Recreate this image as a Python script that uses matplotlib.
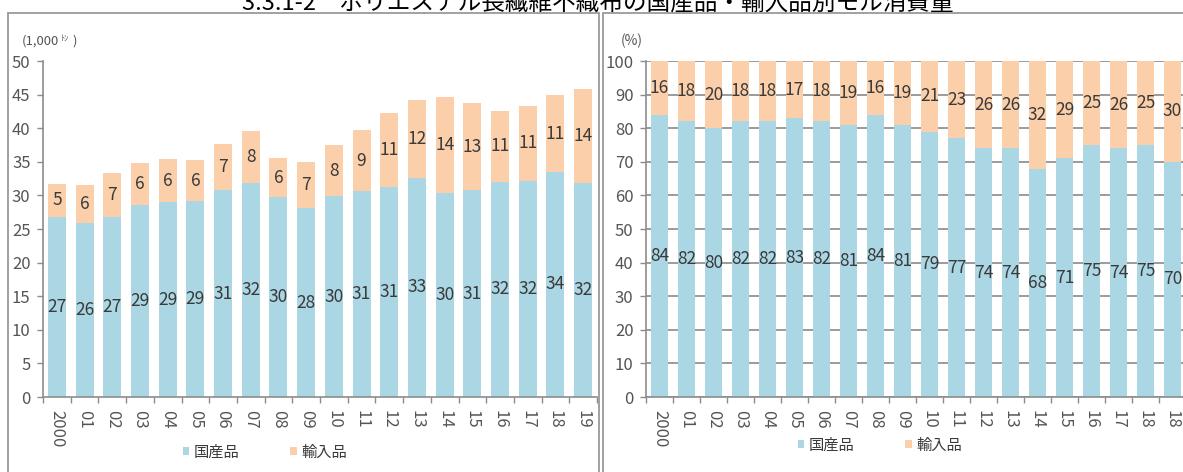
import matplotlib
matplotlib.use("Agg")
import matplotlib.pyplot as plt
from matplotlib.patches import Rectangle
import numpy as np

plt.rcParams['font.family'] = ['Noto Sans CJK JP', 'DejaVu Sans']

# ---- data ----
years_left = ["2000", "01", "02", "03", "04", "05", "06", "07", "08", "09",
              "10", "11", "12", "13", "14", "15", "16", "17", "18", "19"]
years_right = ["2000", "01", "02", "03", "04", "05", "06", "07", "08", "09",
               "10", "11", "12", "13", "14", "15", "16", "17", "18", "18"]
domestic_kt = [26.8, 25.9, 26.8, 28.6, 29.0, 29.1, 30.8, 31.9, 29.7, 28.1,
               29.9, 30.6, 31.2, 32.6, 30.3, 30.8, 32.0, 32.2, 33.5, 31.8]
import_kt = [4.9, 5.6, 6.6, 6.2, 6.4, 6.1, 6.9, 7.7, 5.8, 6.8,
             7.6, 9.1, 11.0, 11.6, 14.3, 12.9, 10.6, 11.1, 11.4, 14.0]
domestic_pct = [84, 82, 80, 82, 82, 83, 82, 81, 84, 81,
                79, 77, 74, 74, 68, 71, 75, 74, 75, 70]
import_pct = [16, 18, 20, 18, 18, 17, 18, 19, 16, 19,
              21, 23, 26, 26, 32, 29, 25, 26, 25, 30]
series_names = ["国産品", "輸入品"]
title = "3.3.1-2\u3000ポリエステル長繊維不織布の国産品・輸入品別モル消費量"

BLUE = "#abd7e4"
ORANGE = "#fbcfa9"
TXT = "#3a3a3a"
TICK = "#555555"
SPINE = "#8c8c8c"

W, H = 1183, 472
fig = plt.figure(figsize=(W / 100, H / 100), dpi=100)


def fx(px):
    return px / W


def fy(py):
    return 1 - py / H


# panel borders
fig.patches.append(Rectangle((fx(8), fy(480)), fx(591), fy(13) - fy(480),
                             transform=fig.transFigure, fill=False,
                             edgecolor="#9a9a9a", linewidth=1.3))
fig.patches.append(Rectangle((fx(603), fy(480)), fx(600), fy(13) - fy(480),
                             transform=fig.transFigure, fill=False,
                             edgecolor="#9a9a9a", linewidth=1.3))

fig.text(fx(598), fy(10), title, ha="center", va="baseline", fontsize=17,
         color="black")

ax_bottom = fy(397)
ax_h = (397 - 61) / H

axL = fig.add_axes([fx(43), ax_bottom, fx(554), ax_h])
axR = fig.add_axes([fx(646), ax_bottom, fx(540), ax_h])


def style(ax, labels, ymax, ystep):
    x = np.arange(len(labels))
    ax.set_xlim(-0.5, len(labels) - 0.5)
    ax.set_ylim(0, ymax)
    ax.set_yticks(np.arange(0, ymax + 0.1, ystep))
    ax.set_xticks(x)
    ax.set_xticklabels(labels, rotation=-90, fontsize=12, color=TICK)
    ax.set_xticks(np.arange(-0.5, len(labels)), minor=True)
    ax.tick_params(axis="x", which="major", length=0, pad=9)
    ax.tick_params(axis="x", which="minor", length=4, color=SPINE, width=1)
    ax.tick_params(axis="y", length=4, color=SPINE, width=1, labelsize=12,
                   labelcolor=TICK, pad=5)
    for s in ["top", "right"]:
        ax.spines[s].set_visible(False)
    for s in ["left", "bottom"]:
        ax.spines[s].set_color(SPINE)
        ax.spines[s].set_linewidth(1.2)
    return x


# left chart
xL = style(axL, years_left, 50, 5)
b1 = axL.bar(xL, domestic_kt, width=0.65, color=BLUE, label=series_names[0])
b2 = axL.bar(xL, import_kt, width=0.65, bottom=domestic_kt, color=ORANGE,
             label=series_names[1])
axL.bar_label(b1, labels=[f"{round(v + 1e-9):d}" for v in domestic_kt],
              label_type="center", fontsize=12.5, color=TXT)
axL.bar_label(b2, labels=[f"{round(v + 1e-9):d}" for v in import_kt],
              label_type="center", fontsize=12.5, color=TXT)

# right chart
xR = style(axR, years_right, 100, 10)
axR.set_axisbelow(True)
axR.yaxis.grid(True, color="#8a8a8a", linewidth=1.2)
c1 = axR.bar(xR, domestic_pct, width=0.63, color=BLUE, label=series_names[0])
c2 = axR.bar(xR, import_pct, width=0.63, bottom=domestic_pct, color=ORANGE,
             label=series_names[1])
axR.bar_label(c1, labels=[str(v) for v in domestic_pct], label_type="center",
              fontsize=12.5, color=TXT)
axR.bar_label(c2, labels=[str(v) for v in import_pct], label_type="center",
              fontsize=12.5, color=TXT)

# unit labels
fig.text(fx(22), fy(41), "(1,000", fontsize=9.5, color=TICK, va="center")
fig.text(fx(61), fy(38), "ﾄﾝ", fontsize=6, color=TICK, va="center")
fig.text(fx(72), fy(41), ")", fontsize=9.5, color=TICK, va="center")
fig.text(fx(621), fy(41), "(%)", fontsize=10, color=TICK, va="center")

# legends
for ax, cx, cy in [(axL, 265, 452), (axR, 880, 445)]:
    ax.legend(loc="center", bbox_to_anchor=(fx(cx), fy(cy)),
              bbox_transform=fig.transFigure, ncol=2, frameon=False,
              fontsize=11, handlelength=0.45, handleheight=0.45,
              handletextpad=0.3, columnspacing=3.3, labelcolor=TXT)

fig.savefig("out.png", dpi=100)
